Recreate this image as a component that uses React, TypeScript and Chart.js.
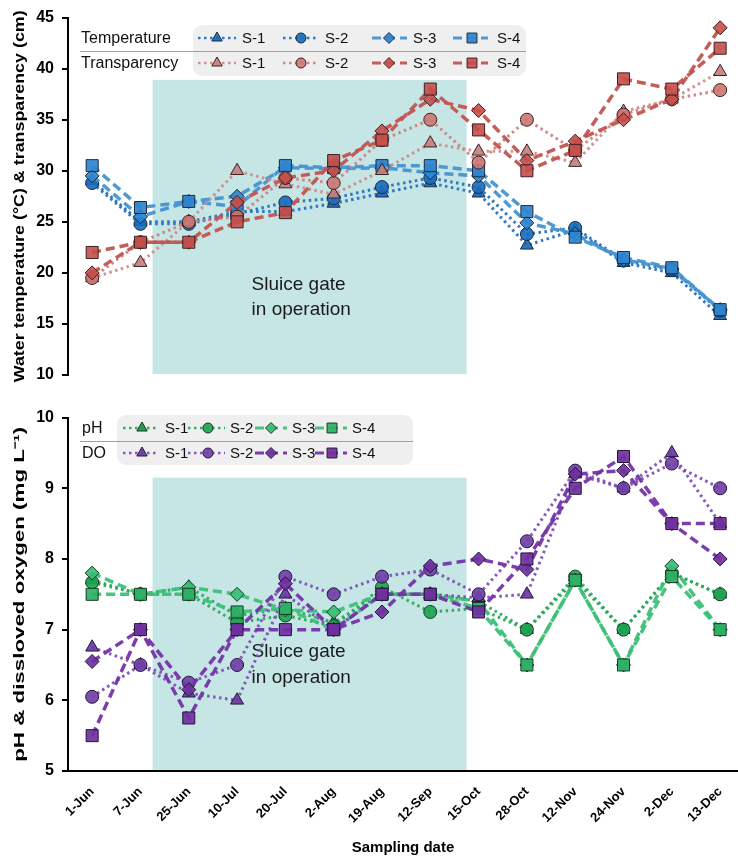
import React, { useEffect, useRef } from "react";
import { Chart, registerables } from "chart.js";

Chart.register(...registerables);

const FONT = '"Liberation Sans", Arial, Helvetica, sans-serif';

// ---------- data ----------
const dates = ["1-Jun", "7-Jun", "25-Jun", "10-Jul", "20-Jul", "2-Aug", "19-Aug", "12-Sep", "15-Oct", "28-Oct", "12-Nov", "24-Nov", "2-Dec", "13-Dec"];

// Water temperature (°C)
const tempS1 = [29.0, 25.0, 25.0, 26.0, 26.0, 26.8, 27.8, 28.8, 27.8, 22.7, 24.2, 21.0, 20.0, 15.8];
const tempS2 = [28.8, 24.8, 24.8, 25.8, 26.9, 27.3, 28.4, 29.3, 28.4, 23.8, 24.4, 21.2, 20.3, 16.3];
const tempS3 = [29.5, 25.5, 27.0, 27.5, 30.3, 30.2, 30.3, 29.8, 29.5, 24.9, 23.8, 21.3, 20.4, 16.4];
const tempS4 = [30.5, 26.4, 27.0, 26.5, 30.5, 30.3, 30.5, 30.5, 30.0, 26.0, 23.5, 21.5, 20.5, 16.4];

// Transparency (cm)
const transS1 = [19.5, 21.0, 25.0, 30.0, 28.7, 27.7, 30.0, 32.7, 31.9, 31.9, 30.8, 35.8, 37.0, 39.7];
const transS2 = [19.5, 23.0, 25.0, 25.5, 29.3, 28.8, 33.0, 35.0, 30.8, 35.0, 32.0, 35.5, 37.0, 37.9];
const transS3 = [20.0, 23.0, 23.0, 26.9, 29.3, 30.0, 33.9, 37.0, 35.9, 31.0, 32.9, 35.0, 37.0, 44.0];
const transS4 = [22.0, 23.0, 23.0, 25.0, 25.9, 31.0, 33.0, 38.0, 34.0, 30.0, 32.0, 39.0, 38.0, 42.0];

// pH
const phS1 = [7.7, 7.5, 7.6, 7.2, 7.3, 7.1, 7.5, 7.5, 7.4, 7.0, 7.7, 7.0, 7.8, 7.5];
const phS2 = [7.67, 7.5, 7.5, 7.1, 7.2, 7.05, 7.6, 7.25, 7.3, 7.0, 7.75, 7.0, 7.8, 7.5];
const phS3 = [7.8, 7.5, 7.6, 7.5, 7.28, 7.25, 7.5, 7.5, 7.4, 6.5, 7.7, 6.5, 7.9, 7.0];
const phS4 = [7.5, 7.5, 7.5, 7.25, 7.3, 7.0, 7.5, 7.5, 7.3, 6.5, 7.7, 6.5, 7.75, 7.0];

// Dissolved oxygen (mg/L)
const doS1 = [6.75, 6.5, 6.1, 6.0, 7.5, 7.0, 7.5, 7.5, 7.45, 7.5, 9.2, 9.0, 9.5, 8.5];
const doS2 = [6.05, 6.5, 6.25, 6.5, 7.75, 7.5, 7.75, 7.85, 7.5, 8.25, 9.25, 9.0, 9.35, 9.0];
const doS3 = [6.55, 7.0, 6.15, 7.0, 7.65, 7.0, 7.25, 7.9, 8.0, 7.85, 9.2, 9.25, 8.5, 8.0];
const doS4 = [5.5, 7.0, 5.75, 7.0, 7.0, 7.0, 7.5, 7.5, 7.25, 8.0, 9.0, 9.45, 8.5, 8.5];

const topTicks = [10, 15, 20, 25, 30, 35, 40, 45];
const bottomTicks = [5, 6, 7, 8, 9, 10];
const siteLabels = ["S-1", "S-2", "S-3", "S-4"];

// sluice gate operation period (in category index units) and shaded tops
const gateStart = 1.25;
const gateEnd = 7.75;
const gateTopTop = 38.9;
const gateTopBottom = 9.15;

// ---------- styles ----------
type Shape = "triangle" | "circle" | "rectRot" | "rect";
interface Sty { line: string; fill: string; edge: string; shape: Shape; radius: number; dash: number[]; width: number; }
const DOT = [2.5, 3.5];
const DASH = [9, 5];
const RAD: Record<Shape, number> = { triangle: 7.5, circle: 6.5, rectRot: 7, rect: 8.5 };
const LRAD: Record<Shape, number> = { triangle: 6, circle: 5, rectRot: 5.5, rect: 7 };
const SHAPES: Shape[] = ["triangle", "circle", "rectRot", "rect"];

function mk(line: string, fill: string, edge: string, i: number): Sty {
  const shape = SHAPES[i];
  return { line, fill, edge, shape, radius: RAD[shape], dash: i < 2 ? DOT : DASH, width: i < 2 ? 3 : 3.5 };
}

const tempSty = [
  mk("rgba(38,115,192,0.95)", "rgba(26,104,184,0.92)", "#1a2a40", 0),
  mk("rgba(38,115,192,0.95)", "rgba(26,108,190,0.92)", "#1a2a40", 1),
  mk("rgba(70,148,210,0.95)", "rgba(46,132,206,0.92)", "#1a2a40", 2),
  mk("rgba(70,148,210,0.95)", "rgba(46,132,206,0.92)", "#1a2a40", 3),
];
const transSty = [
  mk("rgba(208,140,138,0.95)", "rgba(196,128,126,0.9)", "#3a2222", 0),
  mk("rgba(208,130,126,0.95)", "rgba(204,118,114,0.9)", "#3a2222", 1),
  mk("rgba(194,84,80,0.95)", "rgba(196,78,74,0.9)", "#3a2222", 2),
  mk("rgba(194,84,80,0.95)", "rgba(196,78,74,0.9)", "#3a2222", 3),
];
const phSty = [
  mk("rgba(40,170,90,0.95)", "rgba(24,150,74,0.92)", "#173a22", 0),
  mk("rgba(40,170,90,0.95)", "rgba(30,164,82,0.92)", "#173a22", 1),
  mk("rgba(62,192,120,0.95)", "rgba(58,190,118,0.92)", "#173a22", 2),
  mk("rgba(62,192,120,0.95)", "rgba(44,176,100,0.92)", "#173a22", 3),
];
const doSty = [
  mk("rgba(128,80,184,0.95)", "rgba(104,58,162,0.92)", "#24163a", 0),
  mk("rgba(128,80,184,0.95)", "rgba(112,64,168,0.92)", "#24163a", 1),
  mk("rgba(116,52,168,0.95)", "rgba(112,48,160,0.92)", "#24163a", 2),
  mk("rgba(116,52,168,0.95)", "rgba(112,48,160,0.92)", "#24163a", 3),
];

function ds(label: string, values: number[], s: Sty) {
  return {
    label,
    data: values.map((v, i) => ({ x: i, y: v })),
    borderColor: s.line,
    backgroundColor: s.fill,
    borderWidth: s.width,
    borderDash: s.dash,
    borderCapStyle: "butt" as const,
    pointStyle: s.shape,
    pointRadius: s.radius,
    pointHoverRadius: s.radius,
    pointBackgroundColor: s.fill,
    pointBorderColor: s.edge,
    pointBorderWidth: 1,
    tension: 0,
    fill: false,
    clip: false,
  };
}

// ---------- drawing helpers ----------
function drawMarker(ctx: CanvasRenderingContext2D, shape: Shape, x: number, y: number, r: number, fill: string, edge: string) {
  ctx.beginPath();
  if (shape === "circle") {
    ctx.arc(x, y, r, 0, Math.PI * 2);
  } else if (shape === "triangle") {
    for (let k = 0; k < 3; k++) {
      const a = (k * 2 * Math.PI) / 3;
      const px = x + Math.sin(a) * r;
      const py = y - Math.cos(a) * r;
      if (k === 0) ctx.moveTo(px, py);
      else ctx.lineTo(px, py);
    }
    ctx.closePath();
  } else if (shape === "rectRot") {
    ctx.moveTo(x, y - r);
    ctx.lineTo(x + r, y);
    ctx.lineTo(x, y + r);
    ctx.lineTo(x - r, y);
    ctx.closePath();
  } else {
    const h = r * Math.SQRT1_2;
    ctx.rect(x - h, y - h, 2 * h, 2 * h);
  }
  ctx.fillStyle = fill;
  ctx.fill();
  ctx.lineWidth = 1;
  ctx.strokeStyle = edge;
  ctx.setLineDash([]);
  ctx.stroke();
}

interface LegendCfg {
  box: [number, number, number, number];
  sep: [number, number, number];
  labelX: number;
  rows: { label: string; y: number; styles: Sty[] }[];
  slots: { x0: number; x1: number; m: number; t: number }[];
}

function legendPlugin(cfg: LegendCfg) {
  return {
    id: "customLegend",
    afterDraw(chart: any) {
      const ctx: CanvasRenderingContext2D = chart.ctx;
      ctx.save();
      const [bx, by, bw, bh] = cfg.box;
      ctx.fillStyle = "#efefef";
      ctx.beginPath();
      (ctx as any).roundRect(bx, by, bw, bh, 9);
      ctx.fill();
      ctx.strokeStyle = "#a0a0a0";
      ctx.lineWidth = 1;
      ctx.beginPath();
      ctx.moveTo(cfg.sep[0], cfg.sep[1] + 0.5);
      ctx.lineTo(cfg.sep[2], cfg.sep[1] + 0.5);
      ctx.stroke();
      ctx.textBaseline = "middle";
      ctx.textAlign = "left";
      cfg.rows.forEach((row) => {
        ctx.fillStyle = "#111";
        ctx.font = `16px ${FONT}`;
        ctx.fillText(row.label, cfg.labelX, row.y + 1);
        row.styles.forEach((s, i) => {
          const sl = cfg.slots[i];
          ctx.strokeStyle = s.line;
          ctx.lineWidth = s.width - 0.5;
          ctx.setLineDash(s.dash);
          ctx.beginPath();
          ctx.moveTo(sl.x0, row.y);
          ctx.lineTo(sl.x1, row.y);
          ctx.stroke();
          ctx.setLineDash([]);
          drawMarker(ctx, s.shape, sl.m, row.y, LRAD[s.shape], s.fill, s.edge);
          ctx.fillStyle = "#111";
          ctx.font = `15px ${FONT}`;
          ctx.fillText(siteLabels[i], sl.t, row.y + 1);
        });
      });
      ctx.restore();
    },
  };
}

function gatePlugin(topVal: number, textVals: [number, number], textX: number) {
  return {
    id: "gate",
    beforeDatasetsDraw(chart: any) {
      const { ctx, chartArea, scales } = chart;
      const x0 = scales.x.getPixelForValue(gateStart);
      const x1 = scales.x.getPixelForValue(gateEnd);
      const yTop = scales.y.getPixelForValue(topVal);
      ctx.save();
      ctx.fillStyle = "#c6e5e5";
      ctx.fillRect(x0, yTop, x1 - x0, chartArea.bottom - 1 - yTop);
      ctx.fillStyle = "#1a1a1a";
      ctx.font = `19px ${FONT}`;
      ctx.textAlign = "left";
      ctx.textBaseline = "middle";
      const tx = scales.x.getPixelForValue(textX);
      ctx.fillText("Sluice gate", tx, scales.y.getPixelForValue(textVals[0]));
      ctx.fillText("in operation", tx, scales.y.getPixelForValue(textVals[1]));
      ctx.restore();
    },
  };
}

// vertical axis title, stretched along its reading direction to a target length
function yTitlePlugin(text: string, cx: number, length: number, size: number) {
  return {
    id: "yTitle",
    afterDraw(chart: any) {
      const ctx: CanvasRenderingContext2D = chart.ctx;
      const { chartArea } = chart;
      const cy = (chartArea.top + chartArea.bottom) / 2;
      ctx.save();
      ctx.font = `bold ${size}px ${FONT}`;
      const w = ctx.measureText(text).width;
      ctx.translate(cx, cy);
      ctx.rotate(-Math.PI / 2);
      ctx.scale(length / w, 1);
      ctx.fillStyle = "#000";
      ctx.textAlign = "center";
      ctx.textBaseline = "middle";
      ctx.fillText(text, 0, 0);
      ctx.restore();
    },
  };
}

const X_MIN = -0.5;
const X_MAX = 13.37;

function yAxis(min: number, max: number, ticks: number[]) {
  return {
    type: "linear" as const,
    min,
    max,
    afterFit: (s: any) => {
      s.width = 68;
    },
    afterBuildTicks: (s: any) => {
      s.ticks = ticks.map((v) => ({ value: v }));
    },
    ticks: { color: "#000", font: { family: FONT, size: 16, weight: "bold" as const }, padding: 8 },
    grid: { display: true, drawOnChartArea: false, drawTicks: true, tickLength: 6, color: "#000", lineWidth: 2 },
    border: { display: true, color: "#000", width: 2 },
    title: { display: false },
  };
}

export default function App() {
  const topRef = useRef<HTMLCanvasElement>(null);
  const botRef = useRef<HTMLCanvasElement>(null);

  useEffect(() => {
    const top = new Chart(topRef.current!, {
      type: "line",
      data: {
        datasets: [
          ds("Transparency S-4", transS4, transSty[3]),
          ds("Transparency S-3", transS3, transSty[2]),
          ds("Transparency S-2", transS2, transSty[1]),
          ds("Transparency S-1", transS1, transSty[0]),
          ds("Temperature S-4", tempS4, tempSty[3]),
          ds("Temperature S-3", tempS3, tempSty[2]),
          ds("Temperature S-2", tempS2, tempSty[1]),
          ds("Temperature S-1", tempS1, tempSty[0]),
        ] as any,
      },
      options: {
        responsive: false,
        animation: false,
        devicePixelRatio: 1,
        layout: { autoPadding: false, padding: { top: 16, bottom: 25, left: 0, right: 0 } },
        plugins: { legend: { display: false }, tooltip: { enabled: false } },
        scales: {
          x: { type: "linear", min: X_MIN, max: X_MAX, display: false },
          y: yAxis(10, 45, topTicks),
        },
      } as any,
      plugins: [
        gatePlugin(gateTopTop, [18.8, 16.35], 3.3),
        yTitlePlugin("Water temperature (°C) & transparency (cm)", 20, 372, 15),
        legendPlugin({
          box: [193, 25, 333, 51],
          sep: [80, 51, 526],
          labelX: 81,
          rows: [
            { label: "Temperature", y: 38, styles: tempSty },
            { label: "Transparency", y: 63, styles: transSty },
          ],
          slots: [
            { x0: 198, x1: 236, m: 217, t: 242 },
            { x0: 283, x1: 319, m: 301, t: 325 },
            { x0: 372, x1: 407, m: 389, t: 413 },
            { x0: 453, x1: 488, m: 472, t: 497 },
          ],
        }),
      ],
    });

    const bottom = new Chart(botRef.current!, {
      type: "line",
      data: {
        datasets: [
          ds("DO S-4", doS4, doSty[3]),
          ds("DO S-3", doS3, doSty[2]),
          ds("DO S-2", doS2, doSty[1]),
          ds("DO S-1", doS1, doSty[0]),
          ds("pH S-4", phS4, phSty[3]),
          ds("pH S-3", phS3, phSty[2]),
          ds("pH S-2", phS2, phSty[1]),
          ds("pH S-1", phS1, phSty[0]),
        ] as any,
      },
      options: {
        responsive: false,
        animation: false,
        devicePixelRatio: 1,
        layout: { autoPadding: false, padding: { top: 11, bottom: 0, left: 0, right: 0 } },
        plugins: { legend: { display: false }, tooltip: { enabled: false } },
        scales: {
          x: {
            type: "linear",
            min: X_MIN,
            max: X_MAX,
            afterFit: (s: any) => {
              s.height = 90;
            },
            afterBuildTicks: (s: any) => {
              s.ticks = dates.map((_, i) => ({ value: i }));
            },
            ticks: {
              autoSkip: false,
              minRotation: 45,
              maxRotation: 45,
              padding: 5,
              color: "#000",
              font: { family: FONT, size: 13, weight: "bold" },
              callback: (v: number) => dates[Math.round(v)] ?? "",
            },
            grid: { display: false },
            border: { display: true, color: "#000", width: 2 },
            title: { display: true, text: "Sampling date", color: "#000", font: { family: FONT, size: 15, weight: "bold" }, padding: { top: 0, bottom: 4 } },
          },
          y: yAxis(5, 10, bottomTicks),
        },
      } as any,
      plugins: [
        gatePlugin(gateTopBottom, [6.68, 6.32], 3.3),
        yTitlePlugin("pH & dissloved oxygen (mg L⁻¹)", 20, 335, 15),
        legendPlugin({
          box: [117, 15, 296, 50],
          sep: [80, 41, 413],
          labelX: 82,
          rows: [
            { label: "pH", y: 28, styles: phSty },
            { label: "DO", y: 53, styles: doSty },
          ],
          slots: [
            { x0: 123, x1: 158, m: 142, t: 165 },
            { x0: 188, x1: 225, m: 208, t: 230 },
            { x0: 255, x1: 287, m: 271, t: 292 },
            { x0: 315, x1: 347, m: 332, t: 352 },
          ],
        }),
      ],
    });

    return () => {
      top.destroy();
      bottom.destroy();
    };
  }, []);

  return (
    <div style={{ position: "absolute", left: 0, top: 0, width: 738, height: 861, background: "#fff" }}>
      <canvas ref={topRef} width={738} height={400} style={{ position: "absolute", left: 0, top: 0, width: 738, height: 400, display: "block" }} />
      <canvas ref={botRef} width={738} height={461} style={{ position: "absolute", left: 0, top: 400, width: 738, height: 461, display: "block" }} />
    </div>
  );
}
